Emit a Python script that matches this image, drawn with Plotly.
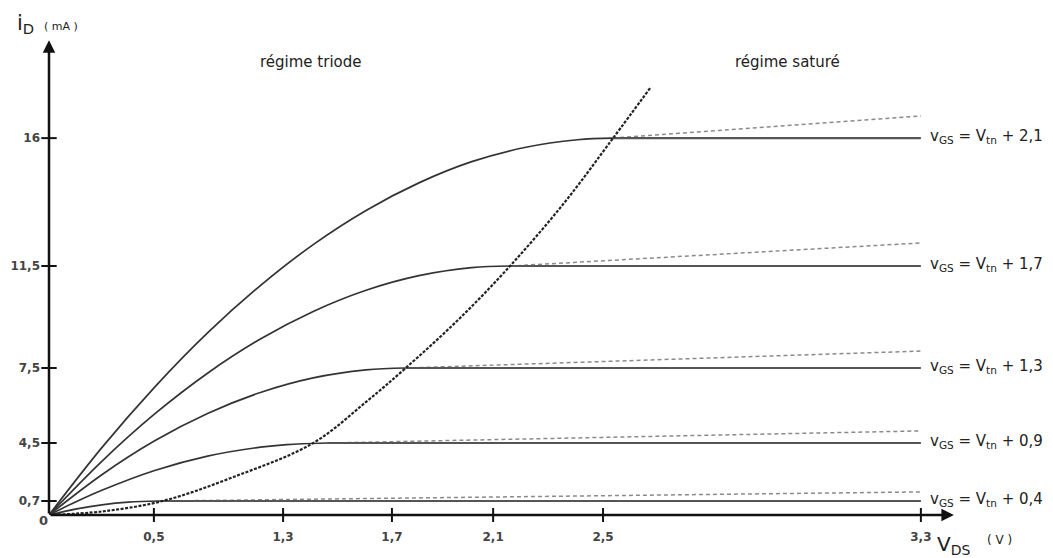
import plotly.graph_objects as go

# Schematic (not-to-scale) MOSFET output characteristics.
# Axis units are the diagram's own coordinates; tick labels carry the printed values.
x_tick_pos = [0.397, 0.886, 1.298, 1.681, 2.097, 3.3]
x_tick_labels = ["0,5", "1,3", "1,7", "2,1", "2,5", "3,3"]
y_tick_pos = [0.594, 3.056, 6.24, 10.57, 16.0]
y_tick_labels = ["0,7", "4,5", "7,5", "11,5", "16"]

vov_labels = ["2,1", "1,7", "1,3", "0,9", "0,4"]

# triode-region curves
triode_x = [
    [0, 0.2, 0.4, 0.6, 0.8, 1.0, 1.2, 1.4, 1.6, 1.8, 2.0, 2.135],
    [0, 0.2, 0.4, 0.6, 0.8, 1.0, 1.2, 1.4, 1.6, 1.745],
    [0, 0.2, 0.4, 0.6, 0.8, 1.0, 1.2, 1.35],
    [0, 0.1, 0.2, 0.4, 0.6, 0.8, 0.9, 1.05],
    [0, 0.1, 0.2, 0.3, 0.42],
]
triode_y = [
    [0, 2.86, 5.43, 7.73, 9.74, 11.48, 12.93, 14.10, 15.0, 15.6, 15.93, 16.0],
    [0, 2.28, 4.29, 6.02, 7.47, 8.64, 9.54, 10.16, 10.50, 10.57],
    [0, 1.71, 3.15, 4.31, 5.20, 5.82, 6.16, 6.24],
    [0, 0.55, 1.05, 1.89, 2.50, 2.88, 2.99, 3.056],
    [0, 0.25, 0.43, 0.545, 0.594],
]
sat_level = [16.0, 10.57, 6.24, 3.056, 0.594]
vds_max = 3.3
dashed_end = [16.94, 11.55, 6.96, 3.57, 0.98]

# boundary parabola (dotted)
par_x = [0, 0.2, 0.43, 0.7, 1.0, 1.2, 1.35, 1.55, 1.745, 1.95, 2.135, 2.275]
par_y = [0, 0.15, 0.594, 1.62, 3.056, 4.8, 6.24, 8.3, 10.57, 13.25, 16.0, 18.12]

FONT = "DejaVu Sans"
fig = go.Figure()

for xs, ys, lvl, dend in zip(triode_x, triode_y, sat_level, dashed_end):
    xsat = xs[-1]
    fig.add_trace(go.Scatter(x=[xsat, vds_max], y=[lvl, dend], mode="lines",
                             line=dict(color="#8a8a8a", width=1.5, dash="4px,3px"),
                             hoverinfo="skip"))
    fig.add_trace(go.Scatter(x=[xsat, vds_max], y=[lvl, lvl], mode="lines",
                             line=dict(color="#555555", width=2.2), hoverinfo="skip"))
    fig.add_trace(go.Scatter(x=xs, y=ys, mode="lines",
                             line=dict(color="#333333", width=1.7, shape="spline"),
                             hoverinfo="skip"))

fig.add_trace(go.Scatter(x=par_x, y=par_y, mode="lines",
                         line=dict(color="#222222", width=2.2, dash="3px,1.5px", shape="spline"),
                         hoverinfo="skip"))

# crossing tick marks
fig.add_trace(go.Scatter(x=x_tick_pos, y=[0] * len(x_tick_pos), mode="markers",
                         marker=dict(symbol="line-ns", size=10, line=dict(color="#111", width=2)),
                         cliponaxis=False, hoverinfo="skip"))
fig.add_trace(go.Scatter(x=[0] * len(y_tick_pos), y=y_tick_pos, mode="markers",
                         marker=dict(symbol="line-ew", size=11, line=dict(color="#111", width=2)),
                         cliponaxis=False, hoverinfo="skip"))

ann = []
# axes with arrows
ann.append(dict(x=3.425, y=0, ax=0, ay=0, xref="x", yref="y", axref="x", ayref="y",
                text="", showarrow=True, arrowhead=2, arrowsize=1, arrowwidth=2.5,
                arrowcolor="#111"))
ann.append(dict(x=0, y=20.16, ax=0, ay=0, xref="x", yref="y", axref="x", ayref="y",
                text="", showarrow=True, arrowhead=2, arrowsize=1, arrowwidth=2.5,
                arrowcolor="#111"))

for lab, lvl in zip(vov_labels, sat_level):
    ann.append(dict(x=3.327, y=lvl, xref="x", yref="y", xanchor="left", yanchor="middle",
                    text=f"v<sub>GS</sub> = V<sub>tn</sub> + {lab}", showarrow=False,
                    yshift=2, font=dict(family=FONT, size=15, color="#222")))

ann.append(dict(x=0.99, y=19.23, xref="x", yref="y", text="régime triode", showarrow=False,
                font=dict(family=FONT, size=15, color="#222")))
ann.append(dict(x=2.797, y=19.23, xref="x", yref="y", text="régime saturé", showarrow=False,
                font=dict(family=FONT, size=15, color="#222")))
ann.append(dict(x=-0.0371, y=1.0124, xref="paper", yref="paper", xanchor="left", yanchor="middle",
                text="i<sub>D</sub>", showarrow=False,
                font=dict(family=FONT, size=21, color="#222")))
ann.append(dict(x=-0.0076, y=1.008, xref="paper", yref="paper", xanchor="left", yanchor="middle",
                text="( mA )", showarrow=False, font=dict(family=FONT, size=11, color="#222")))
ann.append(dict(x=0.967, y=-0.0619, xref="paper", yref="paper", xanchor="left", yanchor="middle",
                text="V<sub>DS</sub>", showarrow=False,
                font=dict(family=FONT, size=20, color="#222")))
ann.append(dict(x=1.0218, y=-0.0515, xref="paper", yref="paper", xanchor="left", yanchor="middle",
                text="( V )", showarrow=False, font=dict(family=FONT, size=12, color="#222")))
ann.append(dict(x=-0.0131, y=-0.0309, xref="paper", yref="paper", text="0", showarrow=False,
                font=dict(family=FONT, size=13, color="#444", weight="bold")))

fig.update_layout(
    width=1053, height=558,
    margin=dict(l=41, r=96, t=22, b=51),
    paper_bgcolor="white", plot_bgcolor="white",
    showlegend=False,
    annotations=ann,
    xaxis=dict(range=[0, 3.467], showgrid=False, zeroline=False, showline=False,
               automargin=False,
               tickmode="array", tickvals=x_tick_pos, ticktext=x_tick_labels,
               ticks="", ticklabelstandoff=13,
               tickfont=dict(family=FONT, size=12, color="#444", weight="bold")),
    yaxis=dict(range=[0, 20.59], showgrid=False, zeroline=False, showline=False,
               automargin=False,
               tickmode="array", tickvals=y_tick_pos, ticktext=y_tick_labels,
               ticks="", ticklabelstandoff=8,
               tickfont=dict(family=FONT, size=12, color="#444", weight="bold")),
)

fig.write_html("out.html")
